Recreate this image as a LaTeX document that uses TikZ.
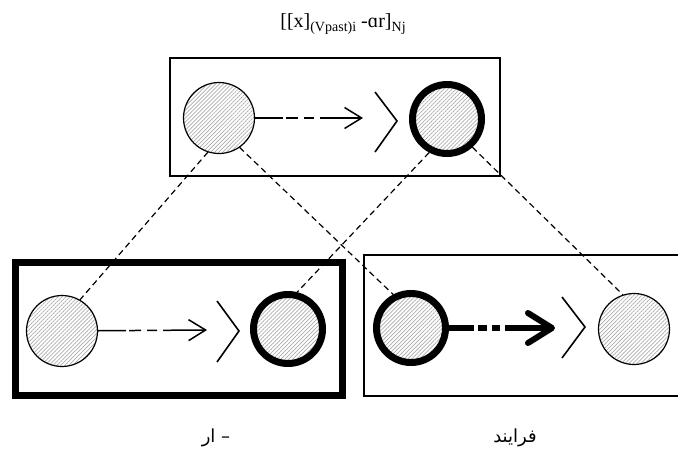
\documentclass[tikz,border=0pt]{standalone}
\usepackage{fontspec}
\setmainfont{Liberation Serif}
\newfontfamily\arabicfont[Script=Arabic]{DejaVu Sans}
\TeXXeTstate=1
\usetikzlibrary{arrows.meta,patterns.meta}
\tikzset{
  hatch/.style={pattern={Lines[angle=45, distance=2.8pt, line width=0.7pt]}, pattern color=gray!65},
  thincirc/.style={circle, draw, line width=1.2pt, minimum size=71pt, inner sep=0pt, preaction={fill=white}, hatch},
  thickcirc/.style={circle, draw, line width=7pt, minimum size=69pt, inner sep=0pt, preaction={fill=white}, hatch},
  conn/.style={line width=1.2pt, dash pattern=on 6pt off 4pt},
  thinarrow/.style={line width=1.5pt, dash pattern=on 28pt off 3pt on 12pt off 6pt on 10pt off 6pt on 300pt, -{Straight Barb[length=17pt,width=21pt]}},
  thickarrow/.style={line width=6pt, dash pattern=on 25pt off 4pt on 9pt off 5pt on 8pt off 5pt on 300pt, -{Straight Barb[length=24pt,width=30pt,round]}},
  brk/.style={line width=1.6pt},
  thinbox/.style={line width=1.4pt},
  thickbox/.style={line width=7pt},
  lbl/.style={inner sep=0pt, font=\arabicfont\fontsize{18}{22}\selectfont}
}
\begin{document}
\begin{tikzpicture}[x=1pt,y=-1pt]
\useasboundingbox (0,0) rectangle (678,450);
% title
\node[inner sep=0pt, anchor=base] (title) at (343,27) {\fontsize{20}{24}\selectfont [[x]\raisebox{-4pt}{\fontsize{14}{14}\selectfont (Vpast)i} -\symbol{"0251}r]\raisebox{-4pt}{\fontsize{14}{14}\selectfont Nj}};
% boxes
\draw[thinbox] (170,58) rectangle (500,176);
\draw[thickbox] (15,262) rectangle (342,395);
\draw[thinbox] (690,255) -- (364,255) -- (364,396) -- (690,396);
% circles
\node[thincirc] (T1) at (219,118) {};
\node[thickcirc] (T2) at (447,119) {};
\node[thincirc] (L1) at (62,331) {};
\node[thickcirc] (L2) at (288,329) {};
\node[thickcirc] (R1) at (411,328) {};
\node[thincirc] (R2) at (634,329) {};
% connectors
\draw[conn] (T1.252) -- (L1.60);
\draw[conn] (T1.305) -- (R1.118);
\draw[conn] (T2.242) -- (L2.76);
\draw[conn] (T2.312) -- (R2.108);
% arrows
\coordinate (a1) at (363,118);
\coordinate (a2) at (207,330);
\coordinate (a3) at (555,328);
\draw[thinarrow] (T1) -- (a1);
\draw[thinarrow] (L1) -- (a2);
\draw[thickarrow] (R1) -- (a3);
% brackets
\coordinate (b1) at (397,121);
\coordinate (b2) at (239,331);
\coordinate (b3) at (585,327);
\draw[brk] ([shift={(-22,-29)}]b1) -- (b1) -- ([shift={(-22,31)}]b1);
\draw[brk] ([shift={(-22,-30)}]b2) -- (b2) -- ([shift={(-22,31)}]b2);
\draw[brk] ([shift={(-23,-30)}]b3) -- (b3) -- ([shift={(-23,31)}]b3);
% labels
\node[lbl] (lab1) at (216,438) {\beginR – ار\endR};
\node[lbl] (lab2) at (515,438) {\beginR فرایند\endR};
\end{tikzpicture}
\end{document}
